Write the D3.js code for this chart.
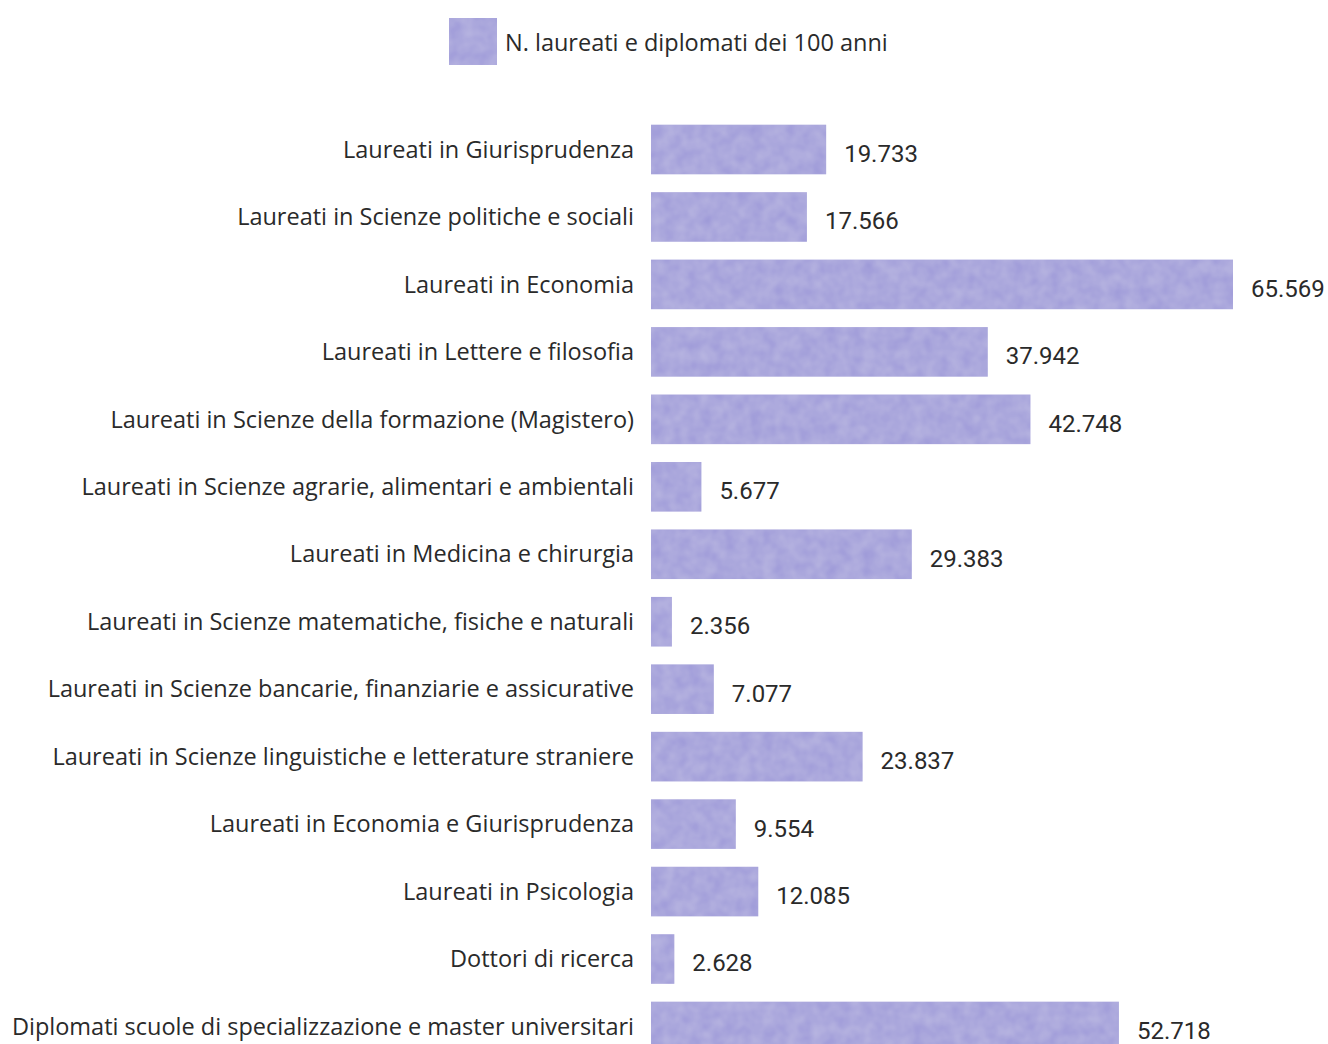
<!DOCTYPE html>
<html>
<head>
<meta charset="utf-8">
<script src="https://cdn.jsdelivr.net/npm/d3@7"></script>
<style>
  body { margin: 0; background: #fff; }
  svg text { font-family: "Open Sans", sans-serif; fill: #2a2a2a; }
  svg text.val { font-family: Roboto, sans-serif; }
</style>
</head>
<body>
<div id="chart"></div>
<script>
// categories and values (number of graduates over 100 years)
var categories = [
  "Laureati in Giurisprudenza",
  "Laureati in Scienze politiche e sociali",
  "Laureati in Economia",
  "Laureati in Lettere e filosofia",
  "Laureati in Scienze della formazione (Magistero)",
  "Laureati in Scienze agrarie, alimentari e ambientali",
  "Laureati in Medicina e chirurgia",
  "Laureati in Scienze matematiche, fisiche e naturali",
  "Laureati in Scienze bancarie, finanziarie e assicurative",
  "Laureati in Scienze linguistiche e letterature straniere",
  "Laureati in Economia e Giurisprudenza",
  "Laureati in Psicologia",
  "Dottori di ricerca",
  "Diplomati scuole di specializzazione e master universitari"
];
var values = [19733, 17566, 65569, 37942, 42748, 5677, 29383, 2356, 7077, 23837, 9554, 12085, 2628, 52718];
var legendLabel = "N. laureati e diplomati dei 100 anni";

var width = 1328;
var height = 1044;
var barColor = "#9d99d8";

var svg = d3.select("#chart")
  .append("svg")
  .attr("width", width)
  .attr("height", height);

// mottled texture like the printed original
var defs = svg.append("defs");
var filt = defs.append("filter").attr("id", "grain");
filt.append("feTurbulence")
  .attr("type", "fractalNoise")
  .attr("baseFrequency", 0.08)
  .attr("numOctaves", 2)
  .attr("seed", 3)
  .attr("result", "noise");
filt.append("feColorMatrix")
  .attr("in", "noise")
  .attr("type", "matrix")
  .attr("values", "0 0 0 0 1  0 0 0 0 1  0 0 0 0 1  0 0 0 0.22 0")
  .attr("result", "light");
filt.append("feComposite")
  .attr("in", "light")
  .attr("in2", "SourceGraphic")
  .attr("operator", "in")
  .attr("result", "lightIn");
filt.append("feMerge").selectAll("feMergeNode")
  .data(["SourceGraphic", "lightIn"])
  .enter().append("feMergeNode")
  .attr("in", function(d) { return d; });

var x = d3.scaleLinear()
  .domain([0, 65569])
  .range([651, 1233]);

var step = 67.46;
var y = d3.scaleBand()
  .domain(categories)
  .range([149.5 - step / 2, 149.5 - step / 2 + step * categories.length])
  .paddingInner(0.265)
  .paddingOuter(0.1325);

var fmt = d3.formatLocale({ decimal: ",", thousands: ".", grouping: [3], currency: ["", "€"] }).format(",d");

// legend
svg.append("rect")
  .attr("x", 449).attr("y", 18)
  .attr("width", 48).attr("height", 47)
  .attr("fill", barColor)
  .attr("filter", "url(#grain)");
svg.append("text")
  .attr("x", 505).attr("y", 43)
  .attr("dy", "0.35em")
  .attr("font-size", 23.5)
  .text(legendLabel);

// bars
svg.selectAll("rect.bar")
  .data(values)
  .enter()
  .append("rect")
  .attr("class", "bar")
  .attr("x", x(0))
  .attr("y", function(d, i) { return y(categories[i]); })
  .attr("width", function(d) { return x(d) - x(0); })
  .attr("height", y.bandwidth())
  .attr("fill", barColor)
  .attr("filter", "url(#grain)");

// category labels
svg.selectAll("text.cat")
  .data(categories)
  .enter()
  .append("text")
  .attr("class", "cat")
  .attr("x", 634)
  .attr("y", function(d) { return y(d) + y.bandwidth() / 2; })
  .attr("dy", "0.35em")
  .attr("text-anchor", "end")
  .attr("font-size", 23.5)
  .text(function(d) { return d; });

// value labels
svg.selectAll("text.val")
  .data(values)
  .enter()
  .append("text")
  .attr("class", "val")
  .attr("x", function(d) { return x(d) + 18; })
  .attr("y", function(d, i) { return y(categories[i]) + y.bandwidth() / 2 + 4; })
  .attr("dy", "0.35em")
  .attr("font-size", 24)
  .text(function(d) { return fmt(d); });
</script>
</body>
</html>
